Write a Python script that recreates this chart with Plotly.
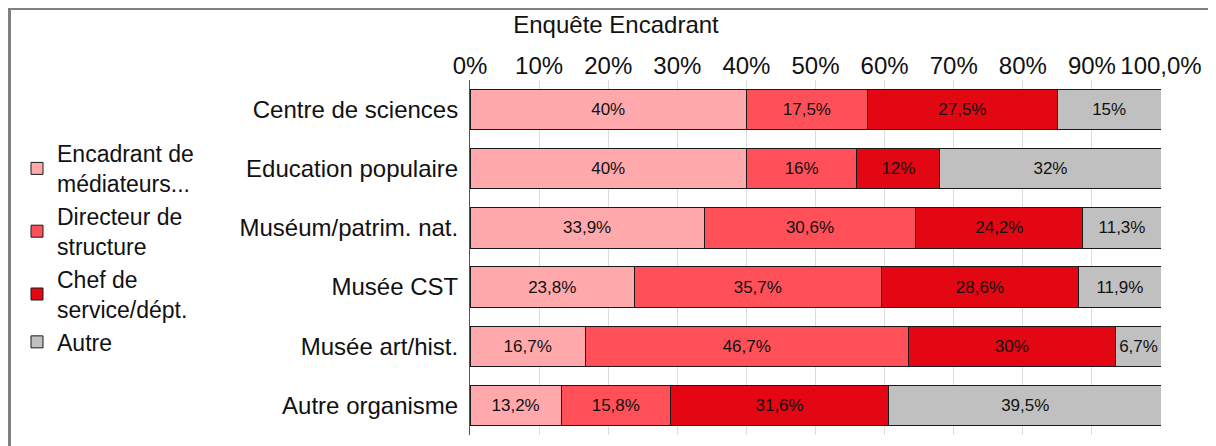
import plotly.graph_objects as go

# survey: role of the respondent, by type of structure
CATEGORIES = ["Centre de sciences", "Education populaire", "Muséum/patrim. nat.",
              "Musée CST", "Musée art/hist.", "Autre organisme"]

SERIES = ["Encadrant de<br>médiateurs...", "Directeur de<br>structure",
          "Chef de<br>service/dépt.", "Autre"]

ENCADRANT = [40, 40, 33.9, 23.8, 16.7, 13.2]
DIRECTEUR = [17.5, 16, 30.6, 35.7, 46.7, 15.8]
CHEF = [27.5, 12, 24.2, 28.6, 30, 31.6]
AUTRE = [15, 32, 11.3, 11.9, 6.7, 39.5]

TICK_VALS = [0, 10, 20, 30, 40, 50, 60, 70, 80, 90, 100]
TICK_TEXT = ["0%", "10%", "20%", "30%", "40%", "50%", "60%", "70%", "80%", "90%", "100,0%"]

COLORS = ["#FFA9AD", "#FF505A", "#E30613", "#C0C0C0"]
FONT = "Liberation Sans, Arial, sans-serif"

# page has an 8px body margin, plot area sits at screen x 470..1161, y 80..435
L, R, T, B = 462, 63, 72, 19
PW, PH = 1216 - L - R, 446 - T - B


def pct(v):
    s = f"{v:g}".replace(".", ",")
    return s + "%"


fig = go.Figure()
for name, vals, col in zip(SERIES, [ENCADRANT, DIRECTEUR, CHEF, AUTRE], COLORS):
    fig.add_trace(go.Bar(
        y=CATEGORIES, x=vals, name=name, orientation="h",
        marker=dict(color=col, line=dict(color="#1a1a1a", width=1)),
        text=[pct(v) for v in vals], textposition="inside",
        insidetextanchor="middle", textangle=0,
        textfont=dict(size=17, color="#111", family=FONT),
        hoverinfo="skip"))

fig.update_layout(
    barmode="stack", bargap=0.32,
    width=1216, height=446,
    paper_bgcolor="white", plot_bgcolor="white",
    font=dict(family=FONT, color="#111"),
    margin=dict(l=L, r=R, t=T, b=B),
    title=dict(text="Enquête Encadrant", x=608 / 1216, xanchor="center",
               y=1 - 17 / 446, yanchor="middle",
               font=dict(size=24, family=FONT, color="#111")),
    legend=dict(xref="container", yref="container", x=9 / 1216, y=1 - 124 / 446,
                xanchor="left", yanchor="top", traceorder="normal",
                font=dict(size=23, family=FONT), itemwidth=30, tracegroupgap=0,
                maxheight=400),
    showlegend=True,
)

fig.update_xaxes(range=[0, 100], side="top", tickvals=TICK_VALS, ticktext=TICK_TEXT,
                 tickfont=dict(size=24, family=FONT), showgrid=True,
                 gridcolor="#dcdcdc", gridwidth=1, zeroline=False, ticks="")
fig.update_yaxes(autorange="reversed", tickfont=dict(size=24, family=FONT),
                 showline=True, linecolor="#555", linewidth=1, ticks="",
                 ticklabelstandoff=6)

# outer chart frame (top and left edges visible)
fig.add_shape(type="rect", xref="paper", yref="paper",
              x0=(1.5 - L) / PW, x1=1.2, y0=-0.2, y1=(PH + T - 0.5) / PH,
              line=dict(color="#808080", width=3), layer="below")

fig.write_html("out.html")
